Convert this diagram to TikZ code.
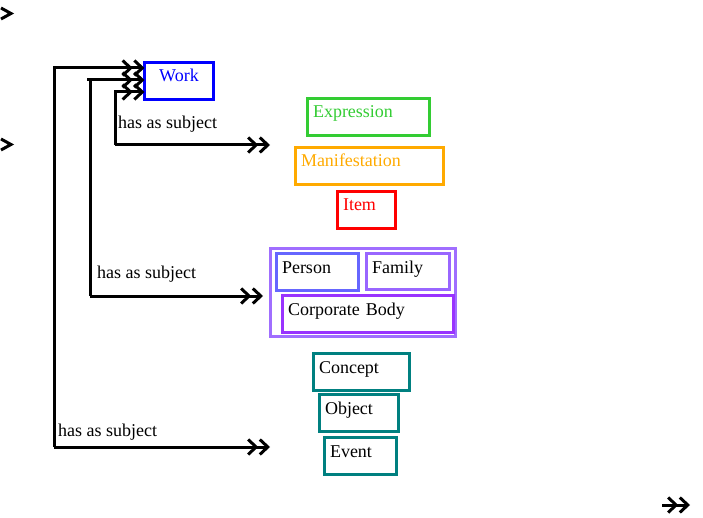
\documentclass[tikz,border=0pt]{standalone}
\usepackage{fontspec}
\setmainfont{Liberation Serif}
\usetikzlibrary{arrows.meta}

\definecolor{workblue}{RGB}{0,0,255}
\definecolor{exprgreen}{RGB}{51,204,51}
\definecolor{maniforange}{RGB}{255,170,0}
\definecolor{itemred}{RGB}{255,0,0}
\definecolor{groupviolet}{RGB}{160,110,255}
\definecolor{personblue}{RGB}{102,102,255}
\definecolor{familyviolet}{RGB}{153,102,255}
\definecolor{corpviolet}{RGB}{153,51,255}
\definecolor{subjteal}{RGB}{0,128,128}

\begin{document}
\begin{tikzpicture}[x=1pt, y=-1pt, font=\fontsize{18}{21}\selectfont]
\tikzstyle{entity} = [rectangle, draw, line width=3pt, outer sep=0pt, anchor=north west, inner xsep=5.5pt, inner ysep=0pt, text height=19.5pt, text depth=17.5pt, align=left]
\tikzstyle{link} = [line width=3pt, -{Straight Barb[length=8pt,width=15pt,sep=0pt]Straight Barb[length=8pt,width=15pt]}]
\tikzstyle{chevron} = [line width=3pt]
\tikzstyle{lbl} = [anchor=base west, inner sep=0pt]
\useasboundingbox (0,0) rectangle (703,518);
% group 1
\node[entity, draw=workblue, text=workblue, text width=58pt, align=center] (work) at (144.5,62.5) {Work};
\node[entity, draw=exprgreen, text=exprgreen, text width=111pt] (expression) at (307.5,98.5) {Expression};
\node[entity, draw=maniforange, text=maniforange, text width=137pt] (manifestation) at (295.5,147.5) {Manifestation};
\node[entity, draw=itemred, text=itemred, text width=47pt] (item) at (337.5,191.5) {Item};
% group 2
\draw[groupviolet, line width=3pt] (270.5,248.5) rectangle (455.5,336.5);
\node[entity, draw=personblue, text width=71pt] (person) at (276.5,253.5) {Person};
\node[entity, draw=familyviolet, text width=72pt, text depth=16.5pt] (family) at (366.5,253.5) {Family};
\node[entity, draw=corpviolet, text width=160pt] (corporate) at (282.5,295.5) {Corporate Body};
% group 3
\node[entity, draw=subjteal, text width=85pt] (concept) at (313.5,353.5) {Concept};
\node[entity, draw=subjteal, text width=68pt] (object) at (319.5,394.5) {Object};
\node[entity, draw=subjteal, text width=61pt] (event) at (324.5,437.5) {Event};
% connectors
\coordinate (j1) at (115,145);
\coordinate (j2) at (90,296);
\coordinate (j3) at (54,447);
\coordinate (s1) at (270,145);
\coordinate (s2) at (263,296);
\coordinate (s3) at (270,447);
\coordinate (t2) at ([xshift=-3pt, yshift=1pt]j2 |- work.west);
\draw[link] (j3) |- ([yshift=13pt]work.west);
\draw[link] (j2) -- (j2 |- t2) -- (t2) -- ([yshift=1pt]work.west);
\draw[link] (j1) |- ([yshift=-11pt]work.west);
\draw[link] (j1) -- (s1);
\draw[link] (j2) -- (s2);
\draw[link] (j3) -- (s3);
\node[lbl] (label1) at (118,129) {has as subject};
\node[lbl] (label2) at (97,279) {has as subject};
\node[lbl] (label3) at (58,436) {has as subject};
% loose tips
\draw[chevron] (1,8) -- (11,13.5) -- (1,19);
\draw[chevron] (1,139) -- (11,144.5) -- (1,150);
\draw[link] (662,505) -- (690,505);
\end{tikzpicture}
\end{document}
